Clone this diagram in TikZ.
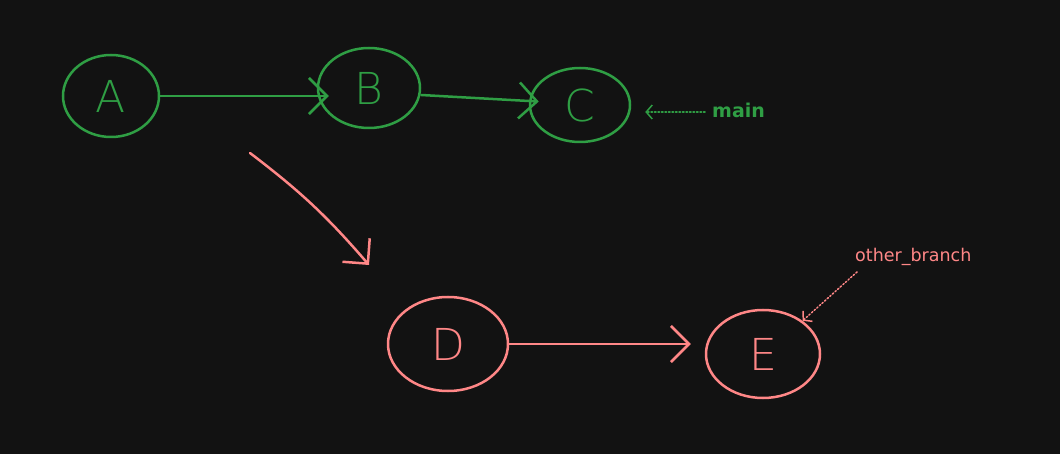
\documentclass[tikz,border=0pt]{standalone}
\usepackage{fontspec}
\setmainfont{DejaVu Sans}
\newfontfamily\letterfont{DejaVu Sans ExtraLight}
\usetikzlibrary{shapes.geometric,arrows.meta}
\definecolor{bg}{HTML}{121212}
\definecolor{gitgreen}{HTML}{2F9E44}
\definecolor{gitred}{HTML}{FF8787}
\tikzset{
  commit/.style={draw, ellipse, line width=2.5pt, inner sep=0pt,
    font=\letterfont\fontsize{44}{44}\selectfont},
  flow/.style={line width=2.5pt, line cap=round,
    -{Straight Barb[length=18pt, width=36pt, line width=2.5pt]}},
  pointer/.style={dotted, line width=1.5pt, line cap=round,
    -{Straight Barb[length=6pt, width=14pt, line width=1.5pt]}},
  tag/.style={inner sep=0pt, anchor=west}
}
\begin{document}
\begin{tikzpicture}[x=1pt, y=-1pt]
  \fill[bg] (0,0) rectangle (1060,454);
  \useasboundingbox (0,0) rectangle (1060,454);

  % main line of history
  \node[commit, gitgreen, text=gitgreen, minimum width=96pt, minimum height=82pt] (A) at (111,96) {A};
  \node[commit, gitgreen, text=gitgreen, minimum width=102pt, minimum height=80pt] (B) at (369,88) {B};
  \node[commit, gitgreen, text=gitgreen, minimum width=100pt, minimum height=74pt] (C) at (580,105) {C};

  % diverging branch
  \node[commit, gitred, text=gitred, minimum width=120pt, minimum height=94pt] (D) at (448,344) {D};
  \node[commit, gitred, text=gitred, minimum width=114pt, minimum height=88pt] (E) at (763,354) {E};

  \draw[flow, gitgreen, shorten >=-12pt] (A.east) -- (A.east -| B.west);
  \draw[flow, gitgreen, shorten >=-10pt] ([yshift=-7pt]B.east) -- ([yshift=4pt]C.west);
  \draw[flow, gitred, shorten >=14pt] (D.east) -- (D.east -| E.west);

  % branching hint
  \coordinate (fork1) at (250,153);
  \coordinate (fork2) at (369,265);
  \draw[flow, gitred] (fork1) to[bend left=6] (fork2);

  % branch labels
  \node[tag, text=gitgreen, font=\bfseries\fontsize{19}{19}\selectfont] (main) at (712,110) {main};
  \coordinate (mainfrom) at (705,112);
  \draw[pointer, gitgreen, shorten >=14pt] (mainfrom) -- (mainfrom -| C.east);

  \node[tag, text=gitred, font=\fontsize{17.5}{17.5}\selectfont] (other) at (855,257) {other\_branch};
  \coordinate (otherfrom) at (857,272);
  \draw[pointer, gitred] (otherfrom) -- (E.40);
\end{tikzpicture}
\end{document}
